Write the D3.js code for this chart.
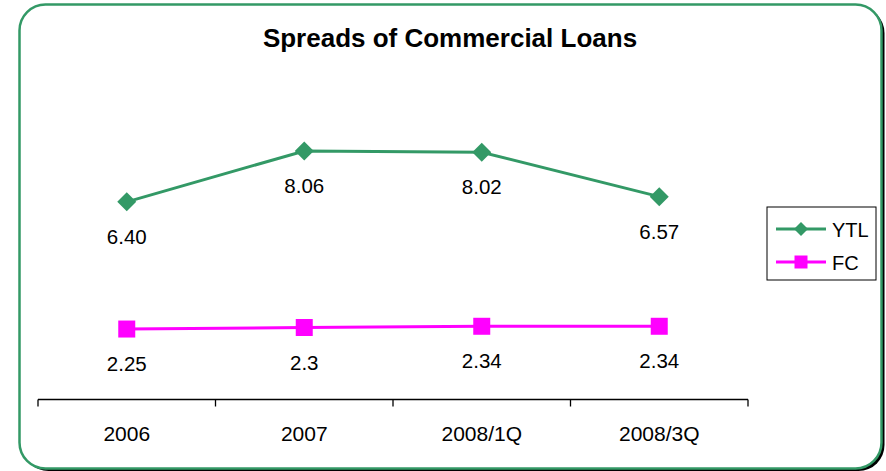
<!DOCTYPE html>
<html>
<head>
<meta charset="utf-8">
<script src="https://cdn.jsdelivr.net/npm/d3@7/dist/d3.min.js"></script>
<style>
  html, body { margin: 0; padding: 0; background: #fff; }
  svg { display: block; font-family: "Liberation Sans", Arial, sans-serif; }
</style>
</head>
<body>
<svg id="chart" width="886" height="471"></svg>
<script>
// Periods on the x axis
const categories = ["2006", "2007", "2008/1Q", "2008/3Q"];
// Spread values per series
const ytlValues = [6.40, 8.06, 8.02, 6.57];
const fcValues = [2.25, 2.3, 2.34, 2.34];
// Labels as printed above each point
const ytlLabels = ["6.40", "8.06", "8.02", "6.57"];
const fcLabels = ["2.25", "2.3", "2.34", "2.34"];
const seriesNames = ["YTL", "FC"];

const GREEN = "#339966";
const MAGENTA = "#FF00FF";

const svg = d3.select("#chart");

// Rounded frame with a dark drop shadow
svg.append("rect")
  .attr("x", 22.5).attr("y", 7).attr("width", 862).attr("height", 464)
  .attr("rx", 26).attr("ry", 26)
  .attr("fill", "#000");
svg.append("rect")
  .attr("x", 19.5).attr("y", 4.5).attr("width", 862).attr("height", 464)
  .attr("rx", 26).attr("ry", 26)
  .attr("fill", "#fff").attr("stroke", GREEN).attr("stroke-width", 2.5);

// Title
svg.append("text")
  .attr("x", 450).attr("y", 46.5)
  .attr("text-anchor", "middle")
  .attr("font-weight", "bold")
  .attr("font-size", 26)
  .text("Spreads of Commercial Loans");

// Scales
const x = d3.scaleBand().domain(categories).range([38, 748]);
const y = d3.scaleLinear().domain([0, 10]).range([398, 91.5]);
const cx = c => x(c) + x.bandwidth() / 2;

// Category axis along the bottom, ticks on band edges
const axisG = svg.append("g").attr("transform", "translate(0,399.5)");
axisG.append("line")
  .attr("x1", 38).attr("x2", 748)
  .attr("stroke", "#000").attr("stroke-width", 1.3);
const edges = categories.map(c => x(c)).concat([x(categories[categories.length - 1]) + x.bandwidth()]);
axisG.selectAll("line.tick").data(edges).enter().append("line")
  .attr("class", "tick")
  .attr("x1", d => d).attr("x2", d => d)
  .attr("y1", 0).attr("y2", 7)
  .attr("stroke", "#000").attr("stroke-width", 1.3);
axisG.selectAll("text").data(categories).enter().append("text")
  .attr("x", d => cx(d)).attr("y", 41.5)
  .attr("text-anchor", "middle")
  .attr("font-size", 21)
  .text(d => d);

const diamond = r => `M0,${-r}L${r},0L0,${r}L${-r},0Z`;
const square = r => `M${-r},${-r}H${r}V${r}H${-r}Z`;

function drawSeries(values, labels, color, shape) {
  const line = d3.line().x((d, i) => cx(categories[i])).y(d => y(d));
  svg.append("path").datum(values)
    .attr("d", line)
    .attr("fill", "none").attr("stroke", color).attr("stroke-width", 3);
  svg.selectAll(null).data(values).enter().append("path")
    .attr("transform", (d, i) => `translate(${cx(categories[i])},${y(d)})`)
    .attr("d", shape)
    .attr("fill", color);
  svg.selectAll(null).data(values).enter().append("text")
    .attr("x", (d, i) => cx(categories[i]))
    .attr("y", d => y(d) + 42)
    .attr("text-anchor", "middle")
    .attr("font-size", 20.5)
    .text((d, i) => labels[i]);
}

drawSeries(ytlValues, ytlLabels, GREEN, diamond(9.5));
drawSeries(fcValues, fcLabels, MAGENTA, square(8.5));

// Legend
const legend = svg.append("g");
legend.append("rect")
  .attr("x", 767).attr("y", 207).attr("width", 109).attr("height", 73)
  .attr("fill", "#fff").attr("stroke", "#000").attr("stroke-width", 1);
const legendItems = [
  { name: seriesNames[0], color: GREEN, shape: diamond(7), y: 229 },
  { name: seriesNames[1], color: MAGENTA, shape: square(6.5), y: 262 }
];
legendItems.forEach(it => {
  legend.append("line")
    .attr("x1", 776).attr("x2", 826).attr("y1", it.y).attr("y2", it.y)
    .attr("stroke", it.color).attr("stroke-width", 3);
  legend.append("path")
    .attr("transform", `translate(801,${it.y})`)
    .attr("d", it.shape).attr("fill", it.color);
  legend.append("text")
    .attr("x", 832).attr("y", it.y + 7.5)
    .attr("font-size", 20)
    .text(it.name);
});
</script>
</body>
</html>
